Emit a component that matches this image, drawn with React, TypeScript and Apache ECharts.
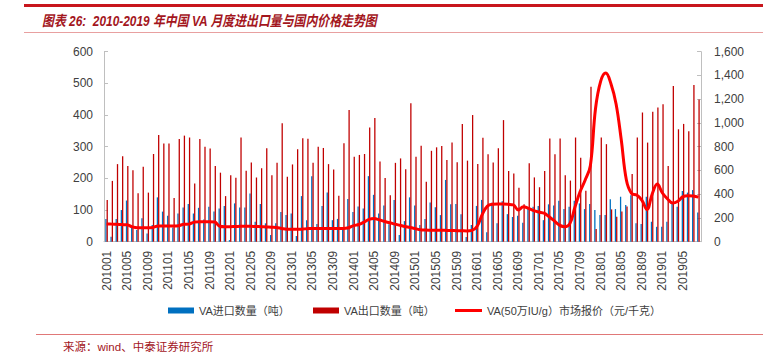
import React, { useEffect, useRef } from "react";
import * as echarts from "echarts";

// Monthly categories 201001 .. 201908
const months: string[] = [];
for (let y = 2010; y <= 2019; y++) {
  for (let m = 1; m <= 12; m++) {
    if (y === 2019 && m > 8) break;
    months.push(`${y}${m < 10 ? "0" + m : m}`);
  }
}

const importName = "VA进口数量（吨）";
const exportName = "VA出口数量（吨）";
const priceName = "VA(50万IU/g）市场报价（元/千克）";

const importVol = [
  72, 16, 72, 100, 130, 47, 37, 74, 26, 53,
  140, 95, 82, 45, 89, 108, 119, 89, 107, 70,
  110, 95, 105, 113, 5, 121, 108, 108, 152, 63,
  119, 58, 21, 58, 94, 84, 89, 18, 144, 68,
  207, 56, 113, 155, 68, 72, 42, 135, 94, 111,
  105, 207, 148, 89, 114, 55, 132, 21, 65, 140,
  114, 53, 72, 124, 109, 84, 195, 118, 119, 87,
  15, 53, 113, 132, 30, 123, 58, 128, 87, 78,
  82, 60, 105, 110, 113, 68, 118, 114, 129, 103,
  110, 129, 121, 103, 119, 100, 84, 84, 134, 103,
  142, 116, 147, 58, 56, 142, 63, 47, 47, 63,
  121, 110, 160, 155, 163, 92,
];

const exportVol = [
  132, 192, 245, 270, 239, 226, 153, 237, 155, 277,
  337, 310, 310, 138, 324, 335, 329, 184, 324, 300,
  294, 239, 218, 144, 210, 202, 329, 224, 250, 203,
  232, 295, 210, 249, 374, 205, 244, 292, 327, 325,
  249, 300, 296, 245, 228, 145, 311, 416, 268, 274,
  277, 361, 391, 253, 201, 147, 249, 263, 229, 437,
  268, 303, 189, 287, 298, 302, 258, 313, 251, 372,
  256, 400, 245, 328, 276, 250, 295, 384, 223, 215,
  170, 118, 248, 203, 172, 223, 326, 276, 326, 210,
  193, 329, 265, 161, 489, 40, 329, 308, 102, 79,
  95, 111, 214, 329, 408, 313, 410, 424, 434, 239,
  492, 355, 372, 349, 495, 449,
];

const price = [
  150, 148, 146, 144, 142, 125, 118, 118, 118, 120,
  132, 132, 132, 132, 135, 146, 148, 165, 168, 168,
  168, 166, 130, 126, 126, 128, 130, 130, 130, 128,
  126, 124, 122, 120, 112, 105, 104, 104, 106, 110,
  112, 112, 112, 112, 112, 112, 112, 118, 135, 145,
  165, 188, 195, 184, 170, 160, 148, 138, 128, 120,
  110, 100, 98, 97, 96, 96, 95, 94, 93, 92,
  91, 95, 130, 230, 300, 315, 317, 317, 315, 310,
  268, 295, 280, 262, 250, 240, 210, 175, 140, 126,
  150, 290, 420, 520, 640, 1120, 1350, 1420, 1330, 1160,
  860, 520, 407, 393, 351, 270, 400, 485, 410, 360,
  325, 340, 380, 388, 385, 375,
];

const titleText = "图表 26:  2010-2019 年中国 VA 月度进出口量与国内价格走势图";
const sourceText = "来源：wind、中泰证券研究所";

const FONT = "'Liberation Sans', 'Noto Sans CJK SC', sans-serif";
const AXIS_GRAY = "#BFBFBF";
const LABEL = "#404040";

export default function App() {
  const ref = useRef<HTMLDivElement>(null);

  useEffect(() => {
    if (!ref.current) return;
    const chart = echarts.init(ref.current, undefined, { renderer: "svg" });
    const legendText = { fontSize: 11, color: LABEL, fontFamily: FONT };
    chart.setOption({
      animation: false,
      backgroundColor: "#ffffff",
      textStyle: { fontFamily: FONT },
      grid: { left: 104, right: 62, top: 51.7, bottom: 110.3, containLabel: false },
      legend: [
        {
          data: [importName], left: 168, top: 305, padding: 0, icon: "rect",
          itemWidth: 26, itemHeight: 6, itemGap: 0, textStyle: legendText,
        },
        {
          data: [exportName], left: 313, top: 305, padding: 0, icon: "rect",
          itemWidth: 26, itemHeight: 6, itemGap: 0, textStyle: legendText,
        },
        {
          data: [priceName], left: 455, top: 305, padding: 0, icon: "rect",
          itemWidth: 27, itemHeight: 3, itemGap: 0, textStyle: legendText,
        },
      ],
      xAxis: {
        type: "category",
        data: months,
        boundaryGap: true,
        axisLine: { lineStyle: { color: AXIS_GRAY, width: 1 } },
        axisTick: { show: false },
        axisLabel: {
          rotate: 90, interval: 3, fontSize: 12, color: LABEL, margin: 9, fontFamily: FONT,
        },
      },
      yAxis: [
        {
          type: "value", min: 0, max: 600, interval: 100, position: "left",
          axisLine: { show: true, lineStyle: { color: AXIS_GRAY } },
          axisTick: { show: true, inside: true, length: 4, lineStyle: { color: AXIS_GRAY } },
          splitLine: { show: false },
          axisLabel: { fontSize: 12, color: LABEL, margin: 11, fontFamily: FONT },
        },
        {
          type: "value", min: 0, max: 1600, interval: 200, position: "right",
          axisLine: { show: true, lineStyle: { color: AXIS_GRAY } },
          axisTick: { show: true, inside: true, length: 4, lineStyle: { color: AXIS_GRAY } },
          splitLine: { show: false },
          axisLabel: {
            fontSize: 12, color: LABEL, margin: 13, fontFamily: FONT,
            formatter: (v: number) => v.toLocaleString("en-US"),
          },
        },
      ],
      series: [
        {
          name: importName, type: "bar", data: importVol, yAxisIndex: 0,
          itemStyle: { color: "#0070C0" }, barGap: "0%", barCategoryGap: "50%",
        },
        {
          name: exportName, type: "bar", data: exportVol, yAxisIndex: 0,
          itemStyle: { color: "#C00000" }, barGap: "0%", barCategoryGap: "50%",
        },
        {
          name: priceName, type: "line", data: price, yAxisIndex: 1, smooth: 0.4,
          symbol: "none", lineStyle: { color: "#FF0000", width: 3 }, itemStyle: { color: "#FF0000" },
          z: 5,
        },
      ],
      graphic: [
        {
          type: "line", shape: { x1: 24, y1: 5.5, x2: 763, y2: 5.5 },
          style: { stroke: "#C8161D", lineWidth: 3 }, silent: true,
        },
        {
          type: "text", x: 42, y: 21, scaleX: 0.82, scaleY: 1,
          style: {
            text: titleText, fill: "#A3161D", fontSize: 14.5, fontWeight: "bold",
            fontStyle: "italic", fontFamily: FONT, verticalAlign: "middle",
          },
          silent: true,
        },
        {
          type: "line", shape: { x1: 24, y1: 32.5, x2: 763, y2: 32.5 },
          style: { stroke: "#E8A0A0", lineWidth: 1 }, silent: true,
        },
        {
          type: "line", shape: { x1: 36, y1: 334.5, x2: 763, y2: 334.5 },
          style: { stroke: "#E07878", lineWidth: 1 }, silent: true,
        },
        {
          type: "text", x: 63, y: 347,
          style: {
            text: sourceText, fill: "#A3161D", fontSize: 11.5, fontFamily: FONT,
            verticalAlign: "middle",
          },
          silent: true,
        },
      ],
    });
    return () => chart.dispose();
  }, []);

  return (
    <div
      ref={ref}
      style={{ position: "absolute", left: 0, top: 0, width: 763, height: 352, background: "#fff" }}
    />
  );
}
